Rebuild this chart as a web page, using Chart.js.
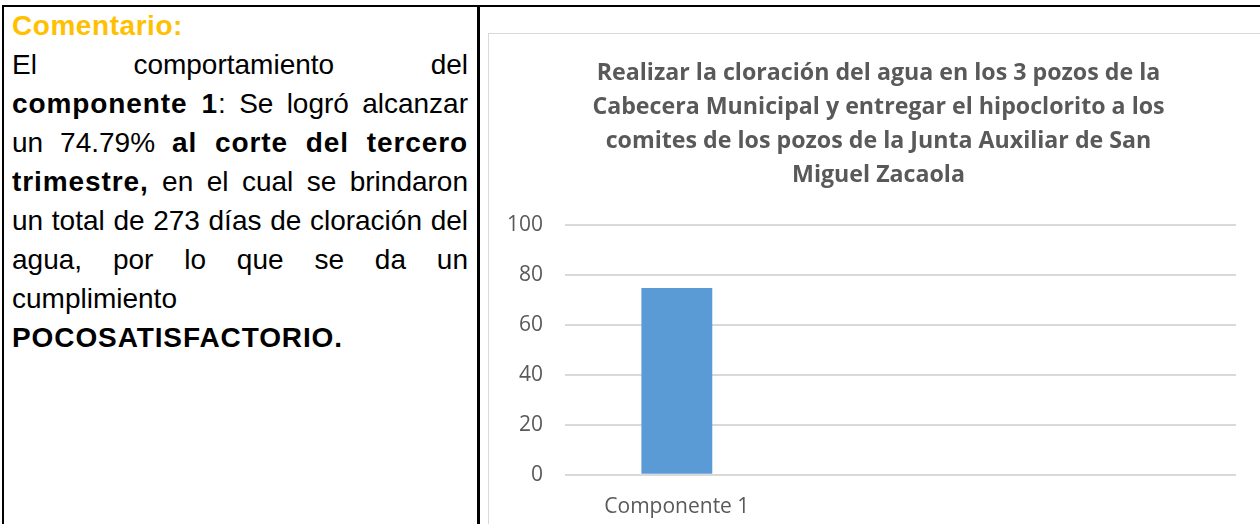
<!DOCTYPE html>
<html>
<head>
<meta charset="utf-8">
<script src="https://cdn.jsdelivr.net/npm/chart.js@4"></script>
<style>
  html, body { margin: 0; padding: 0; background: #fff; }
  body { width: 1260px; height: 524px; position: relative; overflow: hidden; }
  .rule { position: absolute; background: #000; }
  #comment {
    position: absolute; left: 12px; top: 6px; width: 456px;
    font-family: "Liberation Sans", Arial, sans-serif; font-size: 28px; line-height: 39px; color: #000;
  }
  #comment div { white-space: nowrap; }
  #comment b { letter-spacing: 0.9px; }
  #comment .j { text-align: justify; text-align-last: justify; white-space: normal; }
  #comment .head { color: #FFC000; font-weight: bold; letter-spacing: 0.55px; }
  #chartBox {
    position: absolute; left: 488px; top: 33px; width: 800px; height: 520px;
    border: 1px solid #d9d9d9; background: #fff;
  }
  #wrap { position: absolute; left: 489px; top: 35px; width: 771px; height: 509px; }
</style>
</head>
<body>
<div class="rule" style="left:2px;top:5px;width:1258px;height:2px"></div>
<div class="rule" style="left:2px;top:5px;width:2px;height:519px"></div>
<div class="rule" style="left:477px;top:5px;width:3px;height:519px"></div>

<div id="comment">
  <div class="head">Comentario:</div>
  <div class="j">El comportamiento del</div>
  <div class="j"><b>componente 1</b>: Se logró alcanzar</div>
  <div class="j">un 74.79% <b>al corte del tercero</b></div>
  <div class="j"><b>trimestre,</b> en el cual se brindaron</div>
  <div class="j">un total de 273 días de cloración del</div>
  <div class="j">agua, por lo que se da un</div>
  <div>cumplimiento</div>
  <div><b>POCOSATISFACTORIO.</b></div>
</div>

<div id="chartBox"></div>
<div id="wrap"><canvas id="chart"></canvas></div>

<script>
// chart data
const categories = ["Componente 1", "", ""];
const values = [74.79, null, null];
const titleLines = [
  "Realizar la cloración del agua en los 3 pozos de la",
  "Cabecera Municipal y entregar el hipoclorito a los",
  "comites de los pozos de la Junta Auxiliar de San",
  "Miguel Zacaola"
];
const yMin = 0, yMax = 100, yStep = 20;

const grey = "#595959";
const gridGrey = "#d9d9d9";

// the original title sits a bit right of the canvas centre
const titleShift = {
  id: "titleShift",
  afterLayout(chart) {
    const t = chart.titleBlock;
    if (!t) return;
    t.left += 16;
    t.right += 16;
  }
};

new Chart(document.getElementById("chart"), {
  type: "bar",
  data: {
    labels: categories,
    datasets: [{
      data: values,
      backgroundColor: "#5B9BD5",
      barPercentage: 0.317,
      categoryPercentage: 1
    }]
  },
  options: {
    responsive: true,
    maintainAspectRatio: false,
    animation: false,
    layout: { padding: { left: 0, right: 24, top: 0, bottom: 4 } },
    plugins: {
      legend: { display: false },
      tooltip: { enabled: false },
      title: {
        display: true,
        text: titleLines,
        color: grey,
        font: { family: "Open Sans", size: 23.2, weight: "bold", lineHeight: 34 / 23.2 },
        padding: { top: 21, bottom: 33 }
      }
    },
    scales: {
      x: {
        grid: { display: false, drawTicks: false },
        border: { display: false },
        ticks: { color: grey, font: { family: "Open Sans", size: 21 }, padding: 20 }
      },
      y: {
        min: yMin, max: yMax,
        afterFit: s => { s.width = 76; },
        grid: { color: gridGrey, lineWidth: 2, drawTicks: false },
        border: { display: false },
        ticks: { stepSize: yStep, color: grey, font: { family: "Open Sans", size: 21 }, padding: 22 }
      }
    }
  },
  plugins: [titleShift]
});
</script>
</body>
</html>
